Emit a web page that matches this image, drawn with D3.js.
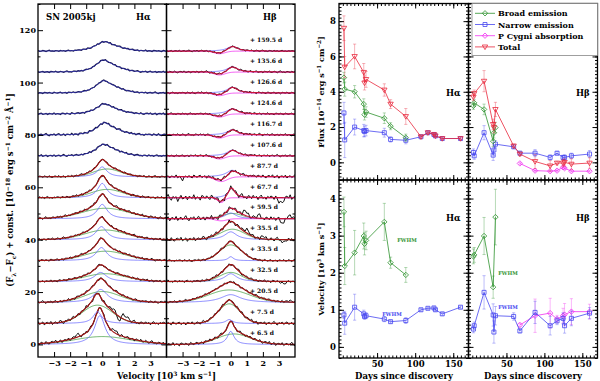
<!DOCTYPE html>
<html>
<head>
<meta charset="utf-8">
<script src="https://cdn.jsdelivr.net/npm/d3@7"></script>
<style>
body { margin: 0; background: #fff; }
text { font-family: "DejaVu Serif", serif; font-weight: bold; }
</style>
</head>
<body>
<script>
// epochs (days since discovery) and their labels
days = [6.5, 7.5, 20.5, 32.5, 33.5, 35.5, 59.5, 67.7, 87.7, 107.6, 116.7, 124.6, 126.6, 135.6, 159.5]
epochLabels = ["+ 6.5 d", "+ 7.5 d", "+ 20.5 d", "+ 32.5 d", "+ 33.5 d", "+ 35.5 d", "+ 59.5 d", "+ 67.7 d",
    "+ 87.7 d", "+ 107.6 d", "+ 116.7 d", "+ 124.6 d", "+ 126.6 d", "+ 135.6 d", "+ 159.5 d"]
specOffset = [0, 8, 16, 24, 32, 40, 48, 56, 64, 72, 80, 88, 96, 104, 112]

// line profile fits (amplitude, FWHM, centre in 10^3 km/s)
haNarrowAmp = [11, 4.5, 5, 3.5, 5, 5, 5.5, 5.5, 3.8, 2.6, 2.8, 2.3, 2.8, 2.8, 2.1]
haNarrowFwhm = [0.8, 0.65, 1.0, 0.9, 0.8, 0.8, 0.75, 0.7, 0.7, 1.0, 1.0, 1.0, 1.0, 1.0, 1.1]
haNarrowCen = [-0.15, -0.3, -0.1, -0.1, -0.05, -0.05, 0, 0, 0, 0.05, 0.1, 0.1, 0.05, 0.05, 0.1]
haBroadAmp = [3.0, 7.0, 4.2, 3.0, 3.6, 3.7, 4.0, 3.2, 3.0, 2.0, 2.0, 1.7, 2.1, 2.0, 1.6]
haBroadFwhm = [4.0, 2.2, 2.6, 3.0, 3.0, 3.0, 3.4, 2.3, 2.0, 1.8, 1.8, 1.8, 1.8, 1.8, 2.0]
haBroadCen = [0, -0.3, 0, 0.2, 0.2, 0.2, 0.2, 0.3, 0.3, 0.4, 0.4, 0.4, 0.4, 0.4, 0.4]
haComponents = [1, 1, 1, 1, 1, 1, 1, 1, 1, 0, 0, 0, 0, 0, 0]
haNoise = [1.0, 1.1, 0.8, 0.7, 0.7, 0.7, 0.8, 0.7, 0.6, 0.5, 0.6, 0.5, 0.4, 0.4, 0.4]

hbNarrowAmp = [5, 1.5, 3.0, 3.0, 1.5, 3.0, 2.2, 3.8, 2.5, 2.2, 2.0, 2.0, 2.2, 2.0, 1.8]
hbNarrowFwhm = [0.5, 0.5, 1.5, 0.9, 0.4, 0.9, 0.8, 0.5, 0.9, 0.8, 0.8, 0.8, 0.8, 0.8, 0.8]
hbNarrowCen = [0, -0.1, 0, 0, 0, 0, 0, 0.05, 0.1, 0.1, 0.1, 0.1, 0.1, 0.1, 0.1]
hbBroadAmp = [4, 7.5, 4.8, 3.5, 6, 4, 2, 0, 0, 0, 0, 0, 0, 0, 0]
hbBroadFwhm = [2.4, 1.6, 3.0, 1.6, 1.6, 1.8, 1.5, 1, 1, 1, 1, 1, 1, 1, 1]
hbBroadCen = [0.2, -0.1, -0.1, 0, 0, 0.1, 0.1, 0, 0, 0, 0, 0, 0, 0, 0]
hbAbsAmp = [0, 0, 0, 0, 0, 0, 0.8, 1.8, 1.8, 1.2, 1.2, 1.2, 1.0, 1.1, 1.0]
hbAbsFwhm = [1, 1, 1, 1, 1, 1, 0.8, 0.5, 0.9, 0.8, 0.8, 0.8, 0.8, 0.8, 0.8]
hbAbsCen = [0, 0, 0, 0, 0, 0, -0.6, -0.6, -0.6, -0.7, -0.7, -0.7, -0.7, -0.7, -0.7]
hbNoise = [1.0, 1.0, 0.7, 0.8, 0.7, 1.2, 1.4, 1.6, 1.0, 0.6, 0.7, 0.6, 0.6, 0.6, 0.5]

// residual wiggles of the observed spectra (hand read, shared between epochs)
noiseA = [0.2, -0.4, 0.5, 0.1, -0.3, 0.6, -0.2, -0.5, 0.3, 0.4, -0.1, 0.7, -0.4, 0.0, 0.5, -0.6, 0.2, 0.3, -0.2, 0.6,
    -0.5, 0.1, 0.4, -0.3, 0.2, 0.8, -0.1, -0.6, 0.3, 0.0, 0.5, -0.4, 0.2, 0.6, -0.3, -0.1, 0.4, -0.5, 0.3, 0.1,
    -0.2, 0.7, -0.4, 0.2, 0.0, -0.6, 0.5, 0.3, -0.2, 0.4, -0.1, -0.5, 0.6, 0.1, -0.3, 0.2, 0.5, -0.4, 0.0, 0.3,
    -0.6, 0.4, 0.2, -0.1, 0.6, -0.3, -0.2, 0.5, 0.1, -0.5, 0.3, 0.7, -0.2, 0.0, -0.4, 0.4, 0.2, -0.3, 0.5, -0.1,
    0.3, -0.5, 0.2, 0.6, -0.2, 0.1, -0.4, 0.3, 0.0, 0.4]

// extra features in the observed spectra: line (0 = Ha, 1 = Hb), epoch index, centre, amplitude, width
featLine = [0, 0, 0, 0, 0, 1, 1, 1, 1, 1, 1, 1, 1, 1, 1, 1, 1]
featEpoch = [1, 1, 1, 0, 0, 6, 6, 6, 6, 7, 7, 5, 5, 5, 3, 8, 2]
featCen = [1.05, 1.4, 0.7, 0.8, -1.6, 0.9, 1.7, 3.2, 3.7, 3.1, -3.3, 1.0, 2.0, 3.3, 3.3, -3.0, 3.6]
featAmp = [-3.2, 1.5, 1.2, 1.0, 0.8, 1.6, 1.0, -1.8, 1.2, -2.2, -0.8, 1.2, 0.8, -1.2, -1.0, -1.0, 0.6]
featWid = [0.15, 0.5, 0.3, 0.3, 0.3, 0.3, 0.3, 0.25, 0.2, 0.3, 0.2, 0.4, 0.3, 0.25, 0.3, 0.2, 0.3]

// Ha fluxes [10^-14 erg/s/cm^2]
haFluxBroad = [4.8, 4.15, 4.0, 3.3, 2.7, 2.85, 2.5, 2.05, 1.4]
haFluxBroadErr = [0.3, 0.4, 0.35, 0.3, 0.3, 0.3, 0.3, 0.2, 0.2]
haFluxNarrow = [2.8, 1.27, 2.0, 1.8, 1.75, 1.8, 1.68, 1.3, 1.25, 1.45, 1.68, 1.58, 1.5, 1.35, 1.35]
haFluxNarrowErr = [0.6, 1.0, 0.45, 0.35, 0.3, 0.3, 0.25, 0.15, 0.2, 0.08, 0.08, 0.08, 0.08, 0.08, 0.08]
haFluxTotal = [7.6, 5.4, 6.0, 5.1, 4.5, 4.7, 4.1, 3.3, 2.6, 1.45, 1.68, 1.58, 1.5, 1.35, 1.35]
haFluxTotalErr = [0.7, 0.6, 0.7, 0.5, 0.4, 0.45, 0.35, 0.25, 0.45, 0.08, 0.08, 0.08, 0.08, 0.08, 0.08]

// Hb fluxes
hbFluxBroad = [3.2, 3.37, 3.0, 1.2, 1.68, 1.97]
hbFluxBroadErr = [0.2, 0.2, 0.3, 0.3, 0.3, 0.3]
hbFluxNarrow = [0.56, 0.37, 1.68, 0.41, 0.7, 1.03, 0.88, 0.52, 0.52, 0.28, 0.52, 0.28, 0.28, 0.37, 0.47]
hbFluxNarrowErr = [0.2, 0.2, 0.4, 0.3, 0.3, 0.2, 0.1, 0.1, 0.2, 0.15, 0.1, 0.1, 0.15, 0.15, 0.2]
hbFluxAbsDays = [67.7, 87.7, 107.6, 116.7, 124.6, 126.6, 135.6, 159.5]
hbFluxAbs = [-0.06, -0.47, -0.5, -0.47, -0.28, -0.33, -0.5, -0.5]
hbFluxAbsErr = [0.05, 0.05, 0.05, 0.05, 0.08, 0.08, 0.05, 0.05]
hbFluxTotal = [3.7, 3.9, 4.6, 2.15, 1.97, 3.0, 0.93, 0.47, 0.05, -0.2, -0.04, -0.04, 0.0, -0.1, -0.04]
hbFluxTotalErr = [0.2, 0.2, 0.6, 0.3, 0.3, 0.4, 0.1, 0.1, 0.4, 0.3, 0.1, 0.2, 0.2, 0.3, 0.3]

// Ha velocities (FWHM) [10^3 km/s]
haVelBroad = [3.64, 2.18, 2.54, 2.99, 2.78, 2.87, 3.37, 2.27, 1.94]
haVelBroadErr = [0.4, 0.5, 0.6, 0.35, 0.3, 0.25, 0.5, 0.15, 0.2]
haVelNarrow = [0.86, 0.64, 1.07, 0.89, 0.82, 0.84, 0.75, 0.68, 0.71, 1.0, 1.04, 1.05, 1.0, 0.89, 1.07]
haVelNarrowErr = [0.1, 0.3, 0.35, 0.1, 0.08, 0.08, 0.07, 0.04, 0.08, 0.04, 0.03, 0.04, 0.04, 0.04, 0.03]

// Hb velocities
hbVelBroadDays = [6.5, 7.5, 20.5, 32.5, 35.5]
hbVelBroad = [2.44, 2.48, 2.99, 1.61, 3.5]
hbVelBroadErr = [0.2, 0.2, 0.5, 0.3, 0.75]
hbVelNarrow = [0.48, 0.57, 1.47, 0.86, 0.4, 0.84, 0.82, 0.43, 0.93, 0.57, 0.7, 0.77, 0.57, 0.77, 0.91]
hbVelNarrowErr = [0.1, 0.1, 0.45, 0.3, 0.3, 0.25, 0.1, 0.05, 0.3, 0.25, 0.1, 0.15, 0.2, 0.2, 0.15]
hbVelAbsDays = [67.7, 87.7, 107.6, 116.7, 124.6, 126.6, 135.6, 159.5]
hbVelAbs = [0.59, 0.84, 0.91, 0.75, 0.84, 0.87, 0.95, 0.95]
hbVelAbsErr = [0.05, 0.45, 0.4, 0.1, 0.2, 0.3, 0.35, 0.2]

legendNames = ["Broad emission", "Narrow emission", "P Cygni absorption", "Total"]

cGreen = "#2f932f", cBlue = "#4646f0", cMag = "#f030f0", cRed = "#e8283c"

svg = d3.select("body").append("svg").attr("width", 600).attr("height", 381)

function rich(t, parts, fs) {
    var cur = 0
    parts.forEach(function(p) {
        var target = p[1] == 1 ? -fs * 0.4 : (p[1] == -1 ? fs * 0.3 : 0)
        t.append("tspan").attr("dy", target - cur).attr("font-size", p[1] ? fs * 0.7 : fs).text(p[0])
        cur = target
    })
}

function styleAxis(g, fs) {
    g.select(".domain").remove()
    g.selectAll("line").attr("stroke", "#000").attr("stroke-width", 1)
    g.selectAll("text").attr("font-family", "DejaVu Serif").attr("font-weight", "bold").attr("font-size", fs)
    g.attr("font-family", null).attr("font-size", null)
}

function frameAxes(x, y, xMaj, xMin, yMaj, yMin, xLab, yLab, majLen, minLen, fs, padX, padY) {
    var x0 = x.range()[0], x1 = x.range()[1], y0 = y.range()[0], y1 = y.range()[1]
    var pairs = [
        [d3.axisBottom, x, "translate(0," + y0 + ")", xMaj, xLab, padX],
        [d3.axisTop, x, "translate(0," + y1 + ")", xMaj, false, padX],
        [d3.axisLeft, y, "translate(" + x0 + ",0)", yMaj, yLab, padY],
        [d3.axisRight, y, "translate(" + x1 + ",0)", yMaj, false, padY]
    ]
    pairs.forEach(function(p) {
        svg.append("g").attr("transform", p[2])
            .call(p[0](p[1]).tickValues(p[3]).tickSize(-majLen).tickPadding(p[5]).tickFormat(p[4] ? d3.format("d") : ""))
            .call(g => styleAxis(g, fs))
        var mins = (p[1] == x ? xMin : yMin)
        if (mins) {
            svg.append("g").attr("transform", p[2])
                .call(p[0](p[1]).tickValues(mins).tickSize(-minLen).tickFormat(""))
                .call(g => styleAxis(g, fs))
        }
    })
    svg.append("rect").attr("x", x0).attr("y", y1).attr("width", x1 - x0).attr("height", y0 - y1)
        .attr("fill", "none").attr("stroke", "#000").attr("stroke-width", 1.3)
}

// ---------------- left: spectra ----------------
xHa = d3.scaleLinear().domain([-4, 4]).range([38, 166.5])
xHb = d3.scaleLinear().domain([-4, 4]).range([166.5, 295])
ySpec = d3.scaleLinear().domain([-4.8, 130]).range([357, 4])

svg.append("clipPath").attr("id", "clipHa").append("rect").attr("x", 38).attr("y", 4).attr("width", 128.5).attr("height", 353)
svg.append("clipPath").attr("id", "clipHb").append("rect").attr("x", 166.5).attr("y", 4).attr("width", 128.5).attr("height", 353)

function gauss(v, a, c, w) { return a * Math.exp(-4 * Math.LN2 * Math.pow((v - c) / w, 2)) }
function lor(v, a, c, w) { return a / (1 + Math.pow(2 * (v - c) / w, 2)) }

vFine = d3.range(-4, 4.0001, 0.05)
vObs = d3.range(-4, 4.0001, 0.1)

function drawCurve(g, x, off, vs, fn, color, width) {
    var line = d3.line().x(v => x(v)).y(v => ySpec(off + fn(v)))
    g.append("path").attr("d", line(vs)).attr("fill", "none").attr("stroke", color).attr("stroke-width", width)
}

function drawLine(lineIdx) {
    var x = lineIdx == 0 ? xHa : xHb
    var g = svg.append("g").attr("clip-path", "url(#" + (lineIdx == 0 ? "clipHa" : "clipHb") + ")")
    days.forEach(function(d, j) {
        var off = specOffset[j]
        var narrow, broad, abs, noise
        if (lineIdx == 0) {
            narrow = v => lor(v, haNarrowAmp[j], haNarrowCen[j], haNarrowFwhm[j])
            broad = v => gauss(v, haBroadAmp[j], haBroadCen[j], haBroadFwhm[j])
            abs = v => 0
            noise = haNoise[j]
        } else {
            narrow = v => lor(v, hbNarrowAmp[j], hbNarrowCen[j], hbNarrowFwhm[j])
            broad = v => gauss(v, hbBroadAmp[j], hbBroadCen[j], hbBroadFwhm[j])
            abs = v => -gauss(v, hbAbsAmp[j], hbAbsCen[j], hbAbsFwhm[j])
            noise = hbNoise[j]
        }
        var total = v => narrow(v) + broad(v) + abs(v)
        var feat = function(v) {
            var s = 0
            featLine.forEach(function(l, k) {
                if (l == lineIdx && featEpoch[k] == j) s += gauss(v, featAmp[k], featCen[k], featWid[k])
            })
            return s
        }
        var obs = vObs.map(function(v, i) {
            return off + total(v) + feat(v) + noiseA[(i + 11 * j + 37 * lineIdx) % noiseA.length] * noise
        })
        var late = lineIdx == 0 ? !haComponents[j] : false
        // components
        if (lineIdx == 0 && haComponents[j]) {
            drawCurve(g, x, off, vFine, broad, cGreen, 0.7)
            drawCurve(g, x, off, vFine, narrow, "#5a5aff", 0.7)
        }
        if (lineIdx == 1) {
            if (hbBroadAmp[j] > 0) drawCurve(g, x, off, vFine, broad, cGreen, 0.7)
            drawCurve(g, x, off, vFine, narrow, "#5a5aff", 0.7)
            if (hbAbsAmp[j] > 0) drawCurve(g, x, off, vFine, abs, cMag, 0.8)
        }
        // observed
        g.append("path").attr("d", d3.line().x((v, i) => x(vObs[i])).y(v => ySpec(v))(obs))
            .attr("fill", "none").attr("stroke", late ? "#14143c" : "#111").attr("stroke-width", late ? 1.2 : 1)
        // total fit
        var fitColor = late ? "#3434b4" : (lineIdx == 0 ? "#a01414" : (hbAbsAmp[j] > 0 ? "#c8143c" : "#a01414"))
        drawCurve(g, x, off, vFine, total, fitColor, late ? 0.9 : 1.2)
    })
}
drawLine(0)
drawLine(1)

// epoch labels
svg.append("g").selectAll("text").data(epochLabels).enter().append("text")
    .attr("x", 250).attr("y", (t, i) => ySpec(specOffset[i] + 4.3) + 2)
    .attr("font-size", 6).text(t => t)

// spectra axes
specTicksX = [-3, -2, -1, 0, 1, 2, 3]
specTicksY = [0, 20, 40, 60, 80, 100, 120]
specMinorY = [10, 30, 50, 70, 90, 110, 130]
frameAxes(xHa, ySpec, specTicksX, null, specTicksY, specMinorY, true, true, 5, 2.5, 8, 3, 2)
frameAxes(xHb, ySpec, specTicksX, null, specTicksY, specMinorY, true, false, 5, 2.5, 8, 3, 2)

svg.append("text").attr("x", 46).attr("y", 20).attr("font-size", 8.5).text("SN 2005kj")
svg.append("text").attr("x", 136).attr("y", 20).attr("font-size", 8.5).text("Hα")
svg.append("text").attr("x", 263).attr("y", 20).attr("font-size", 8.5).text("Hβ")

t = svg.append("text").attr("x", 166.5).attr("y", 379).attr("text-anchor", "middle")
rich(t, [["Velocity [10", 0], ["3", 1], [" km s", 0], ["−1", 1], ["]", 0]], 8.5)

t = svg.append("text").attr("transform", "translate(13,190) rotate(-90)").attr("text-anchor", "middle")
rich(t, [["(F", 0], ["λ", -1], ["−F", 0], ["c", -1], [") + const. [10", 0], ["−18", 1], [" erg s", 0], ["−1", 1],
    [" cm", 0], ["−2", 1], [" Å", 0], ["−1", 1], ["]", 0]], 8.5)

// ---------------- right: fluxes and velocities ----------------
xDayL = d3.scaleLinear().domain([0, 170]).range([339, 468.5])
xDayR = d3.scaleLinear().domain([0, 170]).range([468.5, 597.5])
yFlux = d3.scaleLinear().domain([-1, 9]).range([180, 3.5])
yVel = d3.scaleLinear().domain([-0.3, 4.5]).range([358, 180])

dayMaj = [50, 100, 150]
dayMin = d3.range(5, 170, 5)
fluxMaj = [0, 2, 4, 6, 8]
fluxMin = d3.range(-1, 9.001, 0.2)
velMaj = [0, 1, 2, 3, 4]
velMin = d3.range(-0.3, 4.5001, 0.1)

frameAxes(xDayL, yFlux, dayMaj, dayMin, fluxMaj, fluxMin, false, true, 5, 2.5, 8.5, 3, 3)
frameAxes(xDayR, yFlux, dayMaj, dayMin, fluxMaj, fluxMin, false, false, 5, 2.5, 8.5, 3, 3)
frameAxes(xDayL, yVel, dayMaj, dayMin, velMaj, velMin, true, true, 5, 2.5, 8.5, 3, 3)
frameAxes(xDayR, yVel, dayMaj, dayMin, velMaj, velMin, true, false, 5, 2.5, 8.5, 3, 3)

function marker(shape, r) {
    if (shape == "diamond") return "M0," + (-r) + "L" + r + ",0L0," + r + "L" + (-r) + ",0Z"
    if (shape == "square") return "M" + (-r) + "," + (-r) + "H" + r + "V" + r + "H" + (-r) + "Z"
    return "M" + (-r) + "," + (-r * 0.7) + "H" + r + "L0," + r + "Z"
}

function series(x, y, ds, vs, es, color, shape) {
    var g = svg.append("g")
    var pts = vs.map((v, i) => [ds[i], v, es[i]])
    g.selectAll("line.err").data(pts).enter().append("line")
        .attr("x1", p => x(p[0])).attr("x2", p => x(p[0]))
        .attr("y1", p => y(p[1] - p[2])).attr("y2", p => y(p[1] + p[2]))
        .attr("stroke", color).attr("stroke-opacity", 0.5).attr("stroke-width", 0.7)
    ;[-1, 1].forEach(function(s) {
        g.selectAll("line.cap" + s).data(pts).enter().append("line")
            .attr("x1", p => x(p[0]) - 1.6).attr("x2", p => x(p[0]) + 1.6)
            .attr("y1", p => y(p[1] + s * p[2])).attr("y2", p => y(p[1] + s * p[2]))
            .attr("stroke", color).attr("stroke-opacity", 0.5).attr("stroke-width", 0.7)
    })
    g.append("path").attr("d", d3.line().x(p => x(p[0])).y(p => y(p[1]))(pts))
        .attr("fill", "none").attr("stroke", color).attr("stroke-width", 0.8)
    g.selectAll("path.m").data(pts).enter().append("path")
        .attr("transform", p => "translate(" + x(p[0]) + "," + y(p[1]) + ")")
        .attr("d", marker(shape, shape == "square" ? 2 : 2.7))
        .attr("fill", "none").attr("stroke", color).attr("stroke-width", 0.8)
}

// Ha flux
series(xDayL, yFlux, days, haFluxNarrow, haFluxNarrowErr, cBlue, "square")
series(xDayL, yFlux, days, haFluxBroad, haFluxBroadErr, cGreen, "diamond")
series(xDayL, yFlux, days, haFluxTotal, haFluxTotalErr, cRed, "tri")
// Hb flux
series(xDayR, yFlux, days, hbFluxNarrow, hbFluxNarrowErr, cBlue, "square")
series(xDayR, yFlux, days, hbFluxBroad, hbFluxBroadErr, cGreen, "diamond")
series(xDayR, yFlux, hbFluxAbsDays, hbFluxAbs, hbFluxAbsErr, cMag, "diamond")
series(xDayR, yFlux, days, hbFluxTotal, hbFluxTotalErr, cRed, "tri")
// velocities
series(xDayL, yVel, days, haVelBroad, haVelBroadErr, cGreen, "diamond")
series(xDayL, yVel, days, haVelNarrow, haVelNarrowErr, cBlue, "square")
series(xDayR, yVel, hbVelBroadDays, hbVelBroad, hbVelBroadErr, cGreen, "diamond")
series(xDayR, yVel, hbVelAbsDays, hbVelAbs, hbVelAbsErr, cMag, "diamond")
series(xDayR, yVel, days, hbVelNarrow, hbVelNarrowErr, cBlue, "square")

// FWHM labels
svg.append("text").attr("x", 407).attr("y", 242).attr("font-size", 5).attr("fill", cGreen).attr("text-anchor", "middle").text("FWHM")
svg.append("text").attr("x", 392).attr("y", 316).attr("font-size", 5).attr("fill", cBlue).attr("text-anchor", "middle").text("FWHM")
svg.append("text").attr("x", 508).attr("y", 275).attr("font-size", 5).attr("fill", cGreen).attr("text-anchor", "middle").text("FWHM")
svg.append("text").attr("x", 508).attr("y", 309).attr("font-size", 5).attr("fill", cBlue).attr("text-anchor", "middle").text("FWHM")

// panel line names
;[[446, 96, "Hα"], [576, 96, "Hβ"], [446, 221, "Hα"], [576, 221, "Hβ"]].forEach(function(p) {
    svg.append("text").attr("x", p[0]).attr("y", p[1]).attr("font-size", 8.5).text(p[2])
})

// axis titles
svg.append("text").attr("x", 404).attr("y", 379).attr("text-anchor", "middle").attr("font-size", 8.5).text("Days since discovery")
svg.append("text").attr("x", 533).attr("y", 379).attr("text-anchor", "middle").attr("font-size", 8.5).text("Days since discovery")
t = svg.append("text").attr("transform", "translate(324,92) rotate(-90)").attr("text-anchor", "middle")
rich(t, [["Flux [10", 0], ["−14", 1], [" erg s", 0], ["−1", 1], [" cm", 0], ["−2", 1], ["]", 0]], 8)
t = svg.append("text").attr("transform", "translate(324,269) rotate(-90)").attr("text-anchor", "middle")
rich(t, [["Velocity [10", 0], ["3", 1], [" km s", 0], ["−1", 1], ["]", 0]], 8)

// legend
leg = svg.append("g")
leg.append("rect").attr("x", 472).attr("y", 3.5).attr("width", 125.5).attr("height", 52)
    .attr("fill", "#fff").attr("stroke", "#888").attr("stroke-width", 0.8)
legColors = [cGreen, cBlue, cMag, cRed]
legShapes = ["diamond", "square", "diamond", "tri"]
legendNames.forEach(function(n, i) {
    var yy = 13.3 + i * 11.2
    leg.append("line").attr("x1", 475).attr("x2", 495).attr("y1", yy).attr("y2", yy).attr("stroke", legColors[i]).attr("stroke-width", 0.8)
    leg.append("path").attr("transform", "translate(485," + yy + ")").attr("d", marker(legShapes[i], legShapes[i] == "square" ? 2 : 2.7))
        .attr("fill", "none").attr("stroke", legColors[i]).attr("stroke-width", 0.8)
    leg.append("text").attr("x", 498).attr("y", yy + 3).attr("font-size", 8).text(n)
})
</script>
</body>
</html>
